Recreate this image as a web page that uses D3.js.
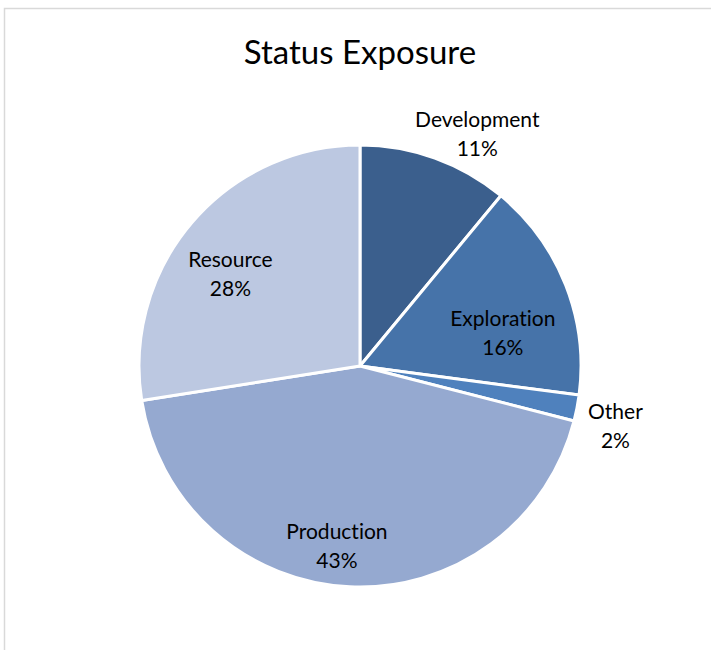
<!DOCTYPE html>
<html>
<head>
<meta charset="utf-8">
<script src="https://cdn.jsdelivr.net/npm/d3@7"></script>
<style>
  body { margin: 0; background: #fff; }
  svg { display: block; }
  text { font-family: Lato, "Open Sans", sans-serif; fill: #000; font-variant-ligatures: none; }
</style>
</head>
<body>
<svg width="711" height="650"></svg>
<script>
(function (d3) {
    'use strict';

    // data (percent of exposure)
    const categories = ['Development', 'Exploration', 'Other', 'Production', 'Resource'];
    const shares = [11.0, 16.1, 1.9, 43.5, 27.5];
    const labels = ['11%', '16%', '2%', '43%', '28%'];
    const colors = ['#3b5f8d', '#4673a9', '#4f81bd', '#95a9d0', '#bcc8e1'];

    const svg = d3.select('svg');
    const cx = 360, cy = 366, radius = 221;

    // chart frame (only left and top edges show in the crop)
    svg.append('path')
        .attr('d', 'M4.5,650 V8.5 H711')
        .attr('fill', 'none')
        .attr('stroke', '#d9d9d9')
        .attr('stroke-width', 1.5);

    svg.append('text')
        .attr('x', cx)
        .attr('y', 64)
        .attr('text-anchor', 'middle')
        .style('font-size', '33px')
        .text('Status Exposure');

    const rows = categories.map((c, i) => ({
        name: c, value: shares[i], label: labels[i], color: colors[i]
    }));

    const pie = d3.pie().sort(null).value(d => d.value);
    const arc = d3.arc().innerRadius(0).outerRadius(radius);

    const g = svg.append('g').attr('transform', `translate(${cx},${cy})`);

    const arcs = pie(rows);

    g.selectAll('path.slice')
        .data(arcs)
        .enter().append('path')
            .attr('class', 'slice')
            .attr('d', arc)
            .attr('fill', d => d.data.color)
            .attr('stroke', '#fff')
            .attr('stroke-width', 3)
            .attr('stroke-linejoin', 'round');

    // label placement: offset from mid angle (deg) and distance as share of radius
    const labelLayout = {
        Development: { dAngle: 6.8, k: 1.185 },
        Exploration: { dAngle: 7.8, k: 0.665 },
        Other:       { dAngle: 1.8, k: 1.185 },
        Production:  { dAngle: 4.7, k: 0.81 },
        Resource:    { dAngle: -4.5, k: 0.725 }
    };

    const labelG = g.selectAll('g.label')
        .data(arcs)
        .enter().append('g')
            .attr('class', 'label')
            .attr('transform', d => {
                const lay = labelLayout[d.data.name];
                const a = (d.startAngle + d.endAngle) / 2 + lay.dAngle * Math.PI / 180;
                const r = radius * lay.k;
                return `translate(${r * Math.sin(a)},${-r * Math.cos(a)})`;
            });

    labelG.append('text')
        .attr('text-anchor', 'middle')
        .attr('y', -5)
        .style('font-size', '21px')
        .text(d => d.data.name);

    labelG.append('text')
        .attr('text-anchor', 'middle')
        .attr('y', 24)
        .style('font-size', '21px')
        .text(d => d.data.label);
}(d3));
</script>
</body>
</html>
